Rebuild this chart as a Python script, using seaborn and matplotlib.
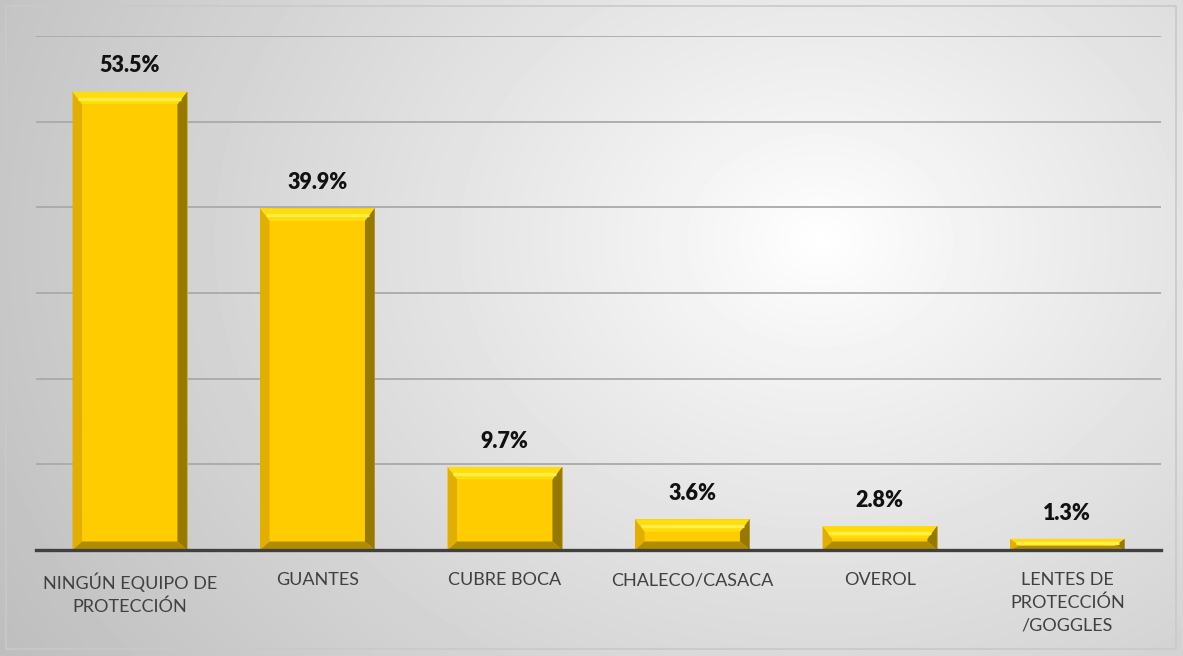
import numpy as np
import pandas as pd
import matplotlib
matplotlib.use("Agg")
import matplotlib.pyplot as plt
from matplotlib.patches import Polygon, Rectangle
import seaborn as sns

categories = [
    "NINGÚN EQUIPO DE\nPROTECCIÓN",
    "GUANTES",
    "CUBRE BOCA",
    "CHALECO/CASACA",
    "OVEROL",
    "LENTES DE\nPROTECCIÓN\n/GOGGLES",
]
values = [53.5, 39.9, 9.7, 3.6, 2.8, 1.3]
value_labels = ["53.5%", "39.9%", "9.7%", "3.6%", "2.8%", "1.3%"]
y_ticks = [0, 10, 20, 30, 40, 50, 60]

df = pd.DataFrame({"categoria": categories, "porcentaje": values})

sns.set_theme(style="white")
plt.rcParams["font.family"] = ["Lato", "DejaVu Sans"]

W, H = 1183, 656
fig = plt.figure(figsize=(W / 100, H / 100), dpi=100)

# radial grey-to-white background behind the whole chart
bg = fig.add_axes([0, 0, 1, 1], zorder=-10)
yy, xx = np.mgrid[0:H, 0:W]
cx, cy = 820, 240
r = np.sqrt((xx - cx) ** 2 + ((yy - cy) / 0.8) ** 2) / 900.0
shade = 1.0 - 0.24 * np.clip(r, 0, 1.2) ** 0.9
bg.imshow(shade, cmap="gray", vmin=0, vmax=1, extent=[0, W, H, 0], aspect="auto")
bg.set_xlim(0, W)
bg.set_ylim(H, 0)
bg.axis("off")
bg.add_patch(Rectangle((6, 6), 1170, 643, fill=False, edgecolor="#c9c9c9", lw=1.2))

ax = fig.add_axes([36 / W, 1 - 550 / H, (1161 - 36) / W, (550 - 36) / H])
ax.patch.set_alpha(0)

sns.barplot(data=df, x="categoria", y="porcentaje", color="#FFCC00",
            width=0.61, saturation=1, ax=ax, zorder=3)

ax.set_xlim(-0.5, len(categories) - 0.5)
ax.set_ylim(0, 60)
ax.set_yticks(y_ticks)
ax.yaxis.grid(True, color="#a9a9a9", lw=1.3, zorder=0)
ax.set_axisbelow(True)
ax.tick_params(axis="y", left=False, labelleft=False)
ax.tick_params(axis="x", bottom=False, pad=10, labelsize=13, labelcolor="#404040")
ax.set_xlabel("")
ax.set_ylabel("")
for s in ["top", "right", "left"]:
    ax.spines[s].set_visible(False)
ax.spines["bottom"].set_color("#404040")
ax.spines["bottom"].set_linewidth(2.4)
ax.spines["bottom"].set_zorder(6)
for lbl in ax.get_xticklabels():
    lbl.set_linespacing(1.5)

# bevelled faces on each bar, built from the bar geometry
px_x = (1161 - 36) / 6.0
px_y = (550 - 36) / 60.0
side_px, top_px, bot_px = 9.5, 12.5, 8.5
for patch in ax.patches:
    x0 = patch.get_x()
    w = patch.get_width()
    h = patch.get_height()
    x1 = x0 + w
    bx = side_px / px_x
    bt = top_px / px_y
    bb = bot_px / px_y
    if bt + bb > h:
        scale = h / (bt + bb)
        bt *= scale
        bb *= scale
    top = [(x0, h), (x1, h), (x1 - bx, h - bt), (x0 + bx, h - bt)]
    bottom = [(x0, 0), (x1, 0), (x1 - bx, bb), (x0 + bx, bb)]
    left = [(x0, 0), (x0, h), (x0 + bx, h - bt), (x0 + bx, bb)]
    right = [(x1, 0), (x1, h), (x1 - bx, h - bt), (x1 - bx, bb)]
    ax.add_patch(Polygon(left, closed=True, fc="#E2AE00", ec="none", zorder=4))
    ax.add_patch(Polygon(right, closed=True, fc="#977800", ec="none", zorder=4))
    ax.add_patch(Polygon(bottom, closed=True, fc="#B08C00", ec="none", zorder=4))
    ax.add_patch(Polygon(top, closed=True, fc="#FFDC0A", ec="none", zorder=4))
    # bright highlight stripe along the top bevel
    mid = h - bt * 0.55
    ax.plot([x0 + bx * 0.6, x1 - bx * 0.6], [mid, mid], color="#FFEE45",
            lw=2.4, solid_capstyle="butt", zorder=4.5)
    patch.set_edgecolor("#bfa850")
    patch.set_linewidth(0.6)

for i, (v, t) in enumerate(zip(values, value_labels)):
    ax.annotate(t, xy=(i, v), xytext=(0, 11), textcoords="offset points",
                ha="center", va="bottom", fontsize=15.5, fontweight="heavy",
                color="#111111", zorder=7)

fig.savefig("out.png", dpi=100)
